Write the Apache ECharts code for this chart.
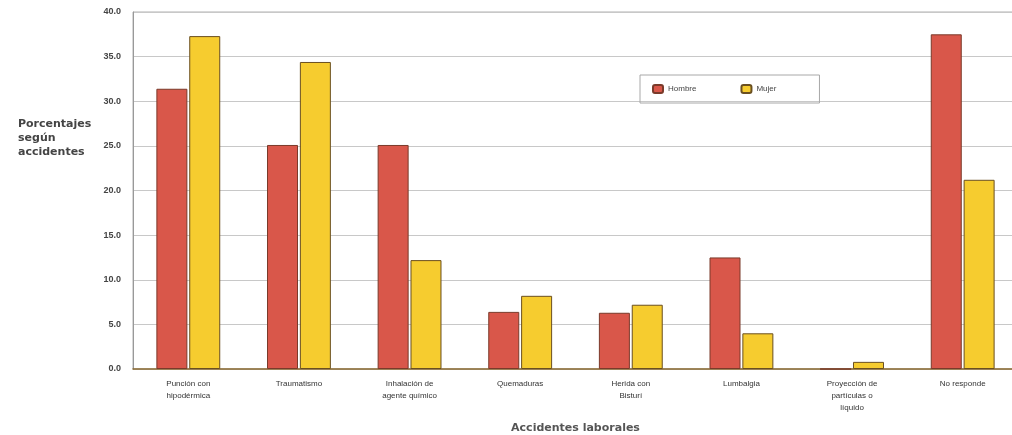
<!DOCTYPE html>
<html>
<head>
<meta charset="utf-8">
<script src="https://cdn.jsdelivr.net/npm/echarts@6/dist/echarts.min.js"></script>
<style>html,body{margin:0;padding:0;background:#fff;}#c{width:1012px;height:435px;}</style>
</head>
<body>
<div id="c"></div>
<script>
var categories = ['Punción con\nhipodérmica', 'Traumatismo', 'Inhalación de\nagente químico', 'Quemaduras', 'Herida con\nBisturí', 'Lumbalgia', 'Proyección de\npartículas o\nlíquido', 'No responde'];
var hombre = [31.4, 25.1, 25.1, 6.4, 6.3, 12.5, 0, 37.5];
var mujer = [37.3, 34.4, 12.2, 8.2, 7.2, 4.0, 0.8, 21.2];
var seriesNames = ['Hombre', 'Mujer'];
var yAxisTitle = 'Porcentajes\nsegún\naccidentes';

var chart = echarts.init(document.getElementById('c'));
chart.setOption({
  animation: false,
  backgroundColor: '#fff',
  title: {
    text: yAxisTitle, left: 18, top: 117, padding: 0,
    textStyle: { fontSize: 11, fontWeight: 'bold', color: '#444', lineHeight: 14, fontFamily: 'DejaVu Sans, sans-serif' }
  },
  grid: { left: 133, top: 12, width: 885, height: 357, containLabel: false, outerBoundsMode: 'none', show: true, borderColor: '#b0b0b0', borderWidth: 1, backgroundColor: 'transparent' },
  legend: {
    left: 640, top: 75,
    itemWidth: 10, itemHeight: 8, itemGap: 44,
    padding: [9, 43, 9, 12],
    borderColor: '#a8a8a8', borderWidth: 1,
    textStyle: { fontSize: 8, color: '#444', fontFamily: 'Liberation Sans, Arial, sans-serif' },
    data: seriesNames
  },
  xAxis: {
    type: 'category', data: categories,
    name: 'Accidentes laborales', nameLocation: 'middle', nameGap: 54,
    nameTextStyle: { fontSize: 11, fontWeight: 'bold', color: '#555', fontFamily: 'DejaVu Sans, sans-serif' },
    axisLine: { lineStyle: { color: '#8a6a30', width: 1.5 } },
    axisTick: { show: false },
    axisLabel: { fontSize: 8, color: '#333', lineHeight: 12, margin: 9, interval: 0, fontFamily: 'Liberation Sans, Arial, sans-serif' }
  },
  yAxis: {
    type: 'value', min: 0, max: 40, interval: 5,
    axisLine: { show: true, lineStyle: { color: '#999' } },
    axisTick: { show: false },
    splitLine: { lineStyle: { color: '#c8c8c8' } },
    axisLabel: { fontSize: 9, fontWeight: 'bold', color: '#444', margin: 12, formatter: function (v) { return v.toFixed(1); }, fontFamily: 'Liberation Sans, Arial, sans-serif' }
  },
  series: [
    { name: seriesNames[0], type: 'bar', data: hombre, barWidth: 31, barGap: '6%',
      itemStyle: { color: '#d9574a', borderColor: '#7a3a2a', borderWidth: 1 } },
    { name: seriesNames[1], type: 'bar', data: mujer, barWidth: 31,
      itemStyle: { color: '#f6cc2f', borderColor: '#6a4f20', borderWidth: 1 } }
  ]
});
</script>
</body>
</html>
